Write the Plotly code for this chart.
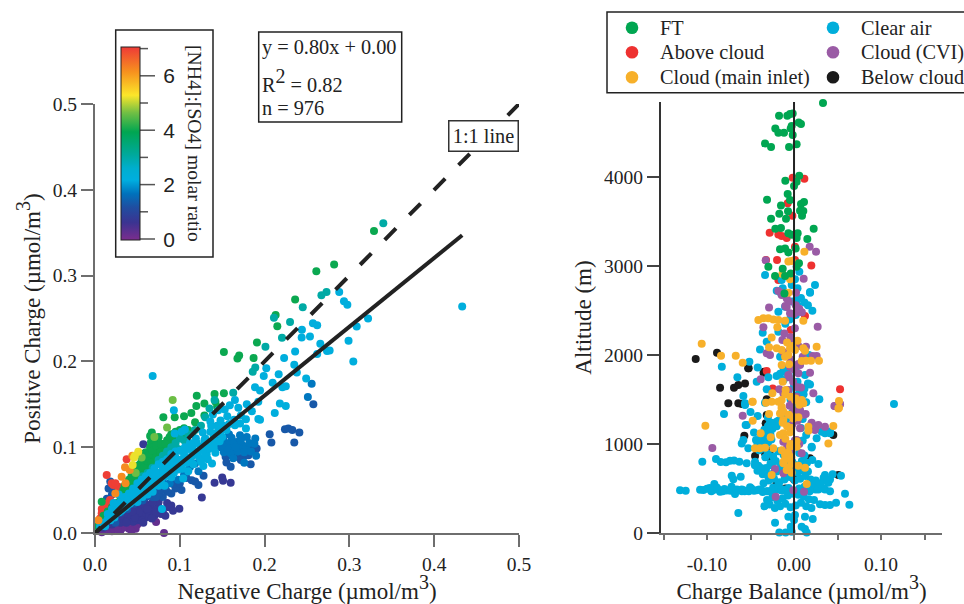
import plotly.graph_objects as go

# ---------- Left panel: (negative charge, positive charge) grouped by [NH4]:[SO4] ratio ----------
ratio_02 = 0.2
pts_02 = [(.0814,0),(.072,.0128),(.03,.003),(.04,.005),(.045,.008),(.02,.002),(.012,.004),(.05,.01),(.025,.008),(.035,.01),
          (.015,.003),(.008,.001),(.042,.012),(.028,.012),(.018,.007),(.022,.005),(.048,.005),(.038,.008),(.01,.002),(.033,.006),(.027,.004),(.043,.003)]
ratio_07 = 0.7
pts_07 = [(.0995,.0283),(.09,.032),(.085,.035),(.087,.03),(.08,.025),(.083,.02),(.075,.03),(.07,.028),(.065,.033),(.06,.032),
          (.06,.025),(.055,.03),(.05,.028),(.065,.022),(.07,.02),(.06,.018),(.055,.02),(.05,.015),(.045,.02),(.04,.015),
          (.035,.017),(.03,.012),(.045,.013),(.055,.015),(.04,.022),(.05,.022),(.035,.023),(.03,.02),(.025,.014),(.02,.01),
          (.015,.01),(.01,.006),(.126,.0415),(.141,.0585),(.15,.0647),(.151,.061),(.16,.0585),(.057,.1035),(.075,.036),
          (.068,.036),(.058,.038),(.048,.034),(.042,.028),(.078,.022),(.092,.026),(.03,.026),(.024,.018),(.016,.014),
          (.052,.024),(.062,.028),(.072,.024),(.047,.018),(.037,.012),(.057,.012),(.067,.017),(.053,.034),(.044,.025)]
ratio_13 = 1.3
pts_13 = [(.206,.115),(.208,.1054),(.224,.121),(.228,.1217),(.2327,.12),(.241,.117),(.235,.1054),(.2575,.150),(.128,.0667),
          (.114,.0616),(.122,.056),(.118,.06),(.102,.05),(.095,.052),(.09,.046),(.085,.048),(.08,.042),(.075,.045),(.068,.042),
          (.018,.06),(.016,.052),(.02,.045),(.024,.052),(.014,.04),(.012,.03),(.016,.024),(.02,.02),(.028,.032),(.034,.03),
          (.04,.036),(.05,.04),(.06,.042),(.07,.05),(.078,.05),(.1,.058),(.154,.0888),(.155,.0822),(.16,.0771),(.1836,.08),
          (.157,.0907),(.167,.0888),(.175,.0888),(.181,.0907),(.1906,.0984),(.1887,.0965),(.172,.085),(.165,.095),(.185,.1),
          (.064,.046),(.056,.038),(.046,.034),(.038,.028),(.03,.024),(.024,.012),(.072,.042),(.083,.052),(.092,.057),(.108,.064)]
ratio_16 = 1.7
pts_16 = [(.251,.1585),(.2555,.174),(.171,.114),(.161,.111),(.151,.11),(.179,.112),(.189,.11),(.159,.1),(.167,.106),(.174,.102),
          (.163,.104),(.17,.098),(.178,.1),(.182,.105),(.188,.104),(.155,.105),(.148,.1),(.152,.094),(.16,.093),(.168,.095),
          (.176,.094),(.145,.108),(.158,.115),(.172,.108),(.112,.077),(.122,.072),(.118,.081),(.105,.068),(.098,.062),
          (.088,.058),(.08,.06),(.166,.1),(.156,.099),(.184,.095),(.19,.09),(.15,.103),(.163,.087),(.176,.082)]
ratio_21 = 2.2
pts_21 = [(.433,.264),(.322,.25),(.3046,.2),(.299,.224),(.3086,.2407),(.288,.281),(.2936,.27),(.2976,.266),(.257,.2446),
          (.262,.242),(.244,.237),(.2535,.229),(.2437,.228),(.2657,.2205),(.2767,.2128),(.2736,.212),(.262,.2085),(.236,.2116),
          (.223,.204),(.235,.196),(.238,.187),(.202,.192),(.199,.183),(.2166,.185),(.2095,.175),(.221,.17),(.225,.171),
          (.249,.18),(.218,.151),(.225,.148),(.212,.14),(.1926,.133),(.1946,.132),(.1946,.166),(.1887,.17),(.179,.15),
          (.169,.146),(.159,.149),(.153,.144),(.1454,.143),(.139,.138),(.1926,.153),(.178,.1325),(.171,.1275),(.178,.1217),
          (.165,.1256),(.151,.125),(.144,.125),(.136,.13),(.127,.117),(.106,.1205),(.094,.116),(.102,.118),(.142,.0934),
          (.1317,.0915),(.123,.088),(.1278,.078),(.118,.095),(.112,.088),(.138,.081),(.104,.0636),(.068,.183),(.093,.143),
          (.13,.11),(.12,.105),(.115,.1),(.11,.098),(.105,.092),(.1,.085),(.095,.088),(.09,.082),(.085,.078),(.08,.075),
          (.075,.07),(.07,.066),(.065,.062),(.06,.06),(.055,.056),(.05,.05),(.045,.046),(.04,.04),(.035,.036),(.03,.03),
          (.025,.026),(.02,.022),(.015,.016),(.01,.012),(.006,.008),(.098,.074),(.093,.07),(.088,.07),(.083,.066),(.078,.062),
          (.072,.06),(.068,.056),(.062,.052),(.058,.05),(.053,.044),(.048,.042),(.043,.036),(.038,.032),(.033,.028),(.028,.024),
          (.023,.018),(.018,.015),(.012,.008),(.108,.082),(.115,.09),(.125,.1),(.135,.105),(.14,.112),(.148,.118),(.155,.12),
          (.09,.092),(.085,.086),(.08,.083),(.075,.08),(.07,.075),(.065,.07),(.06,.066),(.055,.062),(.05,.058),(.045,.052),
          (.04,.046),(.035,.042),(.03,.036),(.025,.032),(.02,.028),(.015,.022),(.062,.045),(.068,.048),(.082,.055),(.09,.065),
          (.103,.075),(.11,.072),(.075,.055),(.056,.042),(.05,.036),(.028,.045),(.022,.035),(.079,.028),
          (.128,.102),(.122,.095),(.116,.094),(.11,.088),(.103,.086),(.097,.08),(.092,.076),(.087,.074),(.082,.07),(.077,.066),
          (.072,.07),(.067,.066),(.063,.058),(.058,.056),(.053,.052),(.048,.047),(.043,.043),(.038,.038),(.033,.034),(.028,.03),
          (.1,.078),(.107,.087),(.113,.083),(.12,.092),(.134,.098),(.142,.106),(.15,.112),(.158,.127),(.164,.132),(.136,.118),
          (.086,.068),(.076,.058),(.07,.056),(.066,.05),(.06,.048),(.054,.048),(.046,.04),(.041,.034),(.036,.03),(.031,.026),
          (.13,.09),(.127,.097),(.133,.086),(.14,.099),(.116,.08),(.125,.083),(.147,.107),(.144,.117),(.137,.125),(.129,.108),
          (.119,.11),(.112,.105),(.106,.1),(.1,.096),(.095,.095),(.148,.131),(.156,.136),(.172,.137),(.185,.142),(.165,.155)]
ratio_31 = 3.0
pts_31 = [(.34,.361),(.245,.263),(.273,.281),(.267,.277),(.211,.251),(.230,.246),(.2205,.2275),(.201,.217),(.189,.193),
          (.186,.188),(.163,.1635),(.141,.155),(.135,.145),(.13,.135),(.125,.125),(.118,.12),(.11,.115),(.1,.11),(.095,.105),
          (.09,.1),(.085,.095),(.08,.09),(.075,.085),(.068,.076),(.062,.07),(.056,.066),(.105,.108),(.098,.098),(.092,.094),(.087,.09)]
ratio_40 = 4.0
pts_40 = [(.329,.352),(.282,.313),(.261,.305),(.236,.272),(.213,.254),(.215,.241),(.191,.222),(.152,.211),(.170,.207),(.168,.2035),
          (.187,.204),(.141,.162),(.152,.163),(.12,.16),(.1195,.148),(.129,.151),(.1136,.140),(.105,.136),(.094,.135),(.0806,.135),
          (.129,.137),(.118,.129),(.142,.153),(.144,.147),(.035,.055),(.04,.062),(.045,.07),(.05,.078),(.055,.085),(.06,.094),
          (.065,.1),(.07,.107),(.075,.112),(.085,.108),(.09,.115),(.095,.118),(.1,.12),(.105,.122),(.11,.12),(.115,.117),
          (.045,.058),(.05,.066),(.055,.072),(.06,.08),(.065,.086),(.07,.092),(.075,.098),(.08,.1),(.085,.097),(.09,.105),
          (.038,.048),(.042,.052),(.05,.055),(.055,.062),(.06,.072),(.065,.078),(.07,.085),(.075,.09),(.08,.088),(.03,.042),
          (.025,.035),(.02,.03),(.015,.025),(.01,.02),(.0079,.0365),(.01,.015),(.067,.117),(.065,.113),(.066,.106),(.0688,.1),
          (.0334,.05),(.059,.0929),(.003,.008),(.1,.113),(.107,.115),
          (.048,.074),(.053,.08),(.058,.088),(.063,.09),(.068,.096),(.072,.102),(.078,.104),(.083,.104),(.088,.112),(.093,.11),
          (.098,.114),(.103,.118),(.043,.066),(.047,.064),(.052,.07),(.057,.076),(.062,.084),(.067,.082),(.072,.088),(.077,.094),(.082,.092),(.04,.054),(.036,.05)]
ratio_47 = 4.6
pts_47 = [(.085,.123),(.07,.112),(.055,.088),(.0916,.155),(.048,.07)]
ratio_53 = 5.2
pts_53 = [(.051,.0948),(.047,.09),(.0444,.0793),(.046,.088)]
ratio_60 = 6.2
pts_60 = [(.0354,.0765),(.0314,.0657),(.004,.015),(.041,.0734),(.044,.09),(.036,.058),(.024,.046)]
ratio_70 = 7.0
pts_70 = [(.0138,.0676),(.0373,.0859),(.0197,.058),(.0275,.054),(.0314,.052),(.0079,.0229),(.0098,.0287),(.0177,.0385),
          (.0177,.0326),(.006,.017),(.0216,.056),(.0115,.034),(.008,.028),(.024,.058)]
left_groups = [(ratio_02,pts_02),(ratio_07,pts_07),(ratio_13,pts_13),(ratio_16,pts_16),(ratio_70,pts_70),
               (ratio_40,pts_40),(ratio_31,pts_31),(ratio_21,pts_21),(ratio_47,pts_47),(ratio_60,pts_60),(ratio_53,pts_53)]

neg_charge, pos_charge, nh4_so4 = [], [], []
for r_val, pts in left_groups:
    for a, b in pts:
        neg_charge.append(a); pos_charge.append(b); nh4_so4.append(r_val)

fit_x = [0, .433]
fit_y = [0, .347]
one_x = [.5, 0]
one_y = [.5, 0]

colorscale = [[0,"#7B2D8E"],[.09,"#3B3391"],[.17,"#1F4EA1"],[.24,"#0072BC"],[.31,"#00AEDF"],[.37,"#00AECF"],[.44,"#00A99D"],
              [.56,"#00A651"],[.66,"#72BF44"],[.75,"#FCE62A"],[.87,"#F6921E"],[1,"#EE3A37"]]

# ---------- Right panel: (charge balance, altitude) per air mass ----------
ft_x = [.0333,-.0172,-.0077,-.0046,-.0015,.0054,.008,-.0215,-.018,-.0115,-.0038,-.0027,-.0015,-.0333,-.0264,-.0057,.003,.006,.003,-.01,0,
        -.0073,-.0046,-.031,-.015,.008,.0115,-.0069,-.0169,.0069,.0107,.0092,-.0264,-.0092,-.0215,-.015,.0226,-.0065,-.0027,.0042,.003,.0153,
        -.0161,-.0103,-.0065,.0019,-.0295,.0057,.003,-.013,-.0218,-.0103,-.0038,-.011]
ft_y = [4831,4689,4689,4707,4715,4614,4595,4546,4498,4498,4546,4572,4471,4378,4337,4337,4367,4015,3947,3958,3898,
        3809,3741,3745,3681,3696,3718,3614,3588,3621,3618,3565,3531,3531,3419,3426,3419,3367,3352,3367,3314,3303,
        3187,3198,3153,3198,2992,3030,2992,2970,2887,2887,2917,2692]
above_x = [-.0015,.0119,-.0073,-.0019,-.028,-.018,-.0142,-.0084,.0011,-.0322,-.0195,.0011,.0199,-.018,.0126,-.0038,-.0314,.0529,-.0245,.0035,-.0125]
above_y = [3992,3981,3704,3565,3374,3355,3336,3314,3217,3067,3067,3067,3007,2842,2438,2281,1820,1614,1625,2100,1300]
below_x = [-.0521,-.0345,-.085,-.069,-.064,-.0563,-.0755,-.064,-.0314,-.0571,-.0448,-.0333,-.0295,-.0314,-.0326,.0452,.051,.0184,-.113,-.0885,
           -.0527,-.035,-.02,-.01,.0,.012,-.06,-.04,-.032,-.028]
below_y = [1850,1813,1633,1633,1663,1681,1457,1457,1502,1094,865,895,858,1326,1232,1101,652,839,1955,2025,
           1850,1800,560,500,600,790,1450,1000,1180,920]
clear_pts = [(-.0333,2898),(.0061,2936),(.0011,2850),(.0241,2786),(.0184,2708),(-.0142,2842),(-.0027,2786),(-.013,2749),(-.0199,2723),(.003,2618),
             (.0184,2700),(-.015,2693),(.0038,2562),(-.0103,2543),(.0211,2498),(-.018,2487),(-.036,2251),(-.0314,2150),(-.018,2262),(-.0391,2063),
             (-.0513,1925),(-.0418,1861),(-.016,1981),(-.083,1869),(-.0651,1749),(-.0429,1700),(-.0295,1749),(-.02,1764),(-.0314,1614),(-.0582,1539),
             (.0291,1502),(.0184,1670),(.0126,1775),(-.0333,1464),(-.0563,1438),(-.0805,1337),(-.0556,1213),(-.0418,1315),(-.0563,1457),(-.0582,1045),
             (-.0601,1007),(-.0525,951),(-.0437,1045),(.026,1064),(.0203,970),(.0356,1120),(.0414,1120),(-.1693,801),(-.1054,801),(-.0897,831),
             (-.0843,797),(-.0782,794),(-.0736,813),(-.069,816),(-.0628,801),(-.0544,783),(-.0448,801),(-.041,756),(-.0716,644),(-.0697,603),
             (-.0613,633),(-.064,225),(-.131,479),(-.1245,476),(-.108,487),(-.1042,483),(-.0916,551),(-.0927,483),(-.085,464),(-.0775,478),
             (-.0678,438),(-.06,490),(-.0506,513),(-.043,480),(-.0316,470),(-.02,490),(-.0123,480),(-.0218,116),(-.0169,7),(-.0096,7),
             (-.0038,71),(.0011,202),(-.0065,183),(.0126,183),(.0215,157),(.0088,71),(.0126,45),(.0146,7),(-.0027,15),(0,146),
             (.0299,322),(.0356,315),(.0414,315),(.0483,341),(.0636,318),(.0586,442),(.054,644),(.0444,659),(.0356,652),(.0414,600),
             (.0395,565),(.0299,525),(.0261,530),(.0318,505),(.0356,490),(.0414,470),(.028,775),(.0203,962),(.0318,1138),(.0414,1140),
             (.1149,1449),(-.0544,1213),(-.0888,510),(-.08,495),(-.0718,520),(-.0656,488),(-.0568,470),(-.049,500),(-.0372,478),(-.0255,462),
             (-.0062,505),(.0045,455),(.0152,480),(.0247,490),(-.1,498),(-.095,470),(-.087,490),(-.082,470),(-.073,475),(-.066,480),
             (-.058,480),(-.052,470),(-.046,475),(-.04,490),(-.036,460),(-.027,470),(-.015,480),(-.005,470),(.01,480),(.018,490),
             (.028,490),(.034,500),(-.097,505),(-.06,470),
             (-.034,300),(-.028,320),(-.022,280),(-.016,300),(-.01,330),(-.004,290),(.002,310),(.008,340),(.014,300),(.02,280),
             (-.031,370),(-.025,400),(-.019,360),(-.013,390),(-.007,420),(-.001,440),(.005,430),(.011,410),(.017,380),(.023,370),
             (-.03,470),(-.024,510),(-.018,540),(-.012,490),(-.006,450),(.006,500),(.012,520),(.018,470),(-.035,560),(-.029,590),
             (-.023,610),(-.017,570),(-.011,600),(-.005,630),(.001,590),(.007,610),(.013,640),(.019,600),(-.028,660),(-.022,690),
             (-.016,720),(-.01,700),(-.004,740),(.004,680),(.01,700),(.016,690),(-.032,730),(-.026,760),(-.02,690),(-.014,740),
             (-.008,780),(-.002,800),(.003,760),(.009,810),(.015,790),(.021,820),(-.033,850),(-.027,780),(-.021,810),(-.015,770),
             (-.042,700),(-.038,730),(-.036,660),(-.045,760),(-.03,640),(.03,560),(.025,590),(.034,620),(.038,580),(.02,560),
             (-.03,890),(-.024,860),(-.018,920),(-.012,880),(.006,900),(.012,870),(-.04,930),(-.036,1040),(-.034,950),(-.03,1010),
             (-.026,1050),(-.038,1000),(-.035,1080),(-.032,1120),(-.029,1150),(-.027,1100),(-.025,1170),(-.03,1200),(-.028,1230),(-.024,1190),
             (-.02,1250),(-.01,1290),(-.008,1310),(-.004,1330),(0,1380),(.004,1420),(.008,1180),(-.022,1220),(-.018,1260),(-.014,1330),
             (-.01,1250),(-.006,1300),(-.002,1350),(.002,1400),(.006,1330),(.01,1280),(.014,1470),
             (-.004,1500),(.002,1540),(.007,1520),(.011,1560),(-.006,1600),(0,1650),(.006,1580),(.012,1620),(.016,1680),(-.012,1720),
             (-.006,1760),(.004,1700),(-.016,1790),(-.012,1850),(-.008,1800),(-.003,1870),(.002,1820),(.007,1900),(.012,1950),(.017,2000),
             (-.05,1360),(-.046,1130),(-.042,1000),(-.038,1110),(-.034,1160),(-.03,1300),(-.026,1240),(-.02,1200),(.02,1230),(.024,1170),
             (.01,1040),(.014,1100),(-.01,2350),(-.005,2400),(.002,2450),(.006,2500),(-.002,2600),(-.012,2680),(.004,2750),(.008,2640),(.012,2590),(.016,2560)]
clear_x = [p[0] for p in clear_pts]
clear_y = [p[1] for p in clear_pts]
cvi_x = [.018,.0253,-.0326,.0111,-.018,-.0142,.0023,-.0084,-.0287,-.0122,.005,-.0046,.0272,-.0352,-.0111,-.0134,0,.0138,-.0314,-.0276,
         .0215,.026,.0184,.0069,.005,-.0383,-.0065,.008,.0222,-.0169,-.0122,.0471,.0529,-.0065,-.0027,-.0046,-.0939,-.059,-.0211,-.0008,
         .0115,.0464,.0529,.0069,.0203,.028,.0356,.0241,-.0123,.0031,.0088,-.0218,-.0123,.0134,.0031,-.0084,.0,.004,.009,-.006,-.001,.0,-.004,.005,-.002,.004,.001,-.008,.006,-.003,.0,-.005,.003,
         -.01,-.006,.002,.006,.01,-.012,-.004,.001,.005,-.009,-.002,.003,.007,.011]
cvi_y = [3217,3161,3064,2857,2719,2674,2700,2636,2535,2693,2487,2468,2318,2311,2243,2168,2150,2093,2019,2000,
         1989,1989,1801,1887,1794,1727,1775,1636,1569,1614,1569,1427,1446,1607,1532,1869,955,1318,408,479,
         464,1427,1449,1176,1240,1213,1195,1157,1026,1045,895,719,670,1337,1500,2540,2460,2510,2480,1750,1700,1840,1950,1900,1220,1260,1040,960,1000,920,1370,1430,1640,
         2550,2600,2560,2520,1980,2030,2200,2300,2100,1580,1480,1530,1380,1330]
main_x = [.0119,-.0065,-.0027,-.0134,-.0046,-.0065,-.041,-.0352,-.0295,-.0238,-.018,-.0103,-.0192,.0107,-.0257,.026,-.0287,-.0199,-.0142,-.0046,
          .0011,.0107,.0126,-.0103,-.0065,.0088,.0138,.0195,.0287,-.067,-.0839,-.059,-.0142,-.0057,-.013,-.0096,-.0249,.0517,-.0479,-.0322,
          -.0257,-.018,-.0142,.0011,.0088,-.0142,.0107,.0517,-.1061,-.1019,-.0475,-.0475,-.0383,-.0448,-.0391,-.0333,-.0238,-.0268,-.0287,-.0257,
          .0146,.0395,.0452,.051,.0165,.0165,-.0161,-.0123,-.0046,-.0008,.005,-.0123,-.0161,-.0142,-.0123,-.0027,.005,.0126,-.0084,-.0027,
          -.0103,-.0046,.0031,-.0065,-.01,-.004,.002,-.013,-.008,-.003,-.01,-.006,-.012,-.009,
          -.008,-.002,.004,-.012,-.006,.0,.006,-.01,-.004,.003,-.014,-.008,-.003]
main_y = [3161,3052,3056,2910,2850,2700,2393,2412,2412,2400,2393,2386,2311,2386,2198,2093,2086,2075,2056,2075,
          2056,2075,2048,1981,2000,1932,1936,1936,1936,1992,1992,1914,1887,1895,1700,1607,1569,1483,1476,1464,
          1476,1476,1494,1494,1494,1419,1457,1408,2127,1206,1262,1475,1120,951,951,959,951,1075,1337,652,
          551,1007,1202,1400,1195,1150,1101,1120,1131,1288,1300,1270,1344,1400,783,783,756,734,708,678,
          876,970,970,895,1560,1530,1510,1240,1200,1180,830,740,800,870,
          2140,2100,2160,1360,1330,1300,1440,1060,1000,1030,930,900,850]

zero_x = [0, 0]
zero_y = [0, 4843]

serif = "Liberation Serif"
ink = "#222222"
W, H = 964, 604
def px(v): return v / W
def py(v): return 1 - v / H

fig = go.Figure()

fig.add_trace(go.Scatter(x=neg_charge, y=pos_charge, mode="markers", cliponaxis=False, showlegend=False,
    marker=dict(size=8, color=nh4_so4, colorscale=colorscale, cmin=-0.04, cmax=7.05, line_width=0,
        colorbar=dict(x=px(121), xanchor="left", y=py(47.3), yanchor="top", len=192.7/H, lenmode="fraction",
            thickness=19, thicknessmode="pixels", ypad=0, xpad=0, outlinecolor=ink, outlinewidth=1,
            tickvals=[0,2,4,6], ticks="outside", ticklen=19, tickwidth=1.5, tickcolor="rgba(0,0,0,0)",
            tickfont=dict(family="Liberation Sans", size=21, color=ink), ticklabelposition="outside"))))
fig.add_trace(go.Scatter(x=one_x, y=one_y, mode="lines", showlegend=False, line=dict(color=ink, width=4, dash="16px,19px")))
fig.add_trace(go.Scatter(x=fit_x, y=fit_y, mode="lines", showlegend=False, line=dict(color=ink, width=4)))

for xs, ys, c in [(below_x,below_y,"#1A1A1A"),(above_x,above_y,"#EE3130"),(clear_x,clear_y,"#00AEDB"),
                  (cvi_x,cvi_y,"#9A5BA5"),(main_x,main_y,"#F7B02A"),(ft_x,ft_y,"#00A651")]:
    fig.add_trace(go.Scatter(x=xs, y=ys, xaxis="x2", yaxis="y2", mode="markers", cliponaxis=False, showlegend=False,
                             marker=dict(size=8, color=c, line_width=0)))
fig.add_trace(go.Scatter(x=zero_x, y=zero_y, xaxis="x2", yaxis="y2", mode="lines", showlegend=False, line=dict(color=ink, width=2)))

gray = "#6E6E6E"
tf = dict(family=serif, size=19.5, color=ink)
tt = dict(family=serif, size=23, color=ink)
sup3 = "<sup><span style='font-size:20px'>3</span></sup>"
fig.update_layout(
    width=W, height=H, autosize=False, margin=dict(l=0, r=0, t=0, b=0, autoexpand=False), paper_bgcolor="white", plot_bgcolor="white",
    xaxis=dict(domain=[px(95), px(519)], range=[0, .5], tickvals=[0,.1,.2,.3,.4,.5], tickformat=".1f", showgrid=False, zeroline=False,
               showline=True, linecolor=gray, linewidth=2, ticks="outside", ticklen=12, tickwidth=2, tickcolor=gray, tickfont=tf,
               ticklabelstandoff=1, title=dict(text="Negative Charge (µmol/m"+sup3+")", font=tt, standoff=6)),
    yaxis=dict(domain=[py(533), py(104)], range=[0, .5], tickvals=[0,.1,.2,.3,.4,.5], tickformat=".1f", showgrid=False, zeroline=False,
               showline=True, linecolor=gray, linewidth=2, ticks="outside", ticklen=12, tickwidth=2, tickcolor=gray, tickfont=tf,
               ticklabelstandoff=0, title=dict(text="Positive Charge (µmol/m"+sup3+")", font=tt, standoff=6)),
    xaxis2=dict(domain=[px(661), px(942)], range=[-.1529, .1701], anchor="y2",
                tickvals=[-.10,0,.10], ticktext=["-0.10","0.00","0.10"],
                minor=dict(tickvals=[-.15,-.05,.05,.15], ticks="outside", ticklen=5, tickwidth=2, tickcolor=gray),
                showgrid=False, zeroline=False, showline=True, linecolor=gray, linewidth=2, ticks="outside", ticklen=5, tickwidth=2,
                tickcolor=gray, tickfont=tf, ticklabelstandoff=8, title=dict(text="Charge Balance (µmol/m"+sup3+")", font=tt, standoff=6)),
    yaxis2=dict(domain=[py(533), py(102)], range=[0, 4843], anchor="x2", tickvals=[0,1000,2000,3000,4000], showgrid=False, zeroline=False,
                showline=True, linecolor="#333333", linewidth=2, ticks="outside", ticklen=12, tickwidth=2, tickcolor="#444444", tickfont=tf,
                ticklabelstandoff=0, title=dict(text="Altitude (m)", font=tt, standoff=6)),
)

def box(x0, y0, x1, y1, w=1.5):
    return dict(type="rect", xref="paper", yref="paper", x0=px(x0), x1=px(x1), y0=py(y1), y1=py(y0), line=dict(color=ink, width=w))
shapes = [box(115.7, 30, 213, 257), box(258.7, 32, 401.7, 122), box(607, 12, 990, 92.7)]
# ticks of the colour bar: short at odd values, long at even values
for z in range(8):
    yy = 239 - z * 27.2
    end = 155 if z % 2 == 0 else 148
    shapes.append(dict(type="line", xref="paper", yref="paper", x0=px(140), x1=px(end), y0=py(yy), y1=py(yy), line=dict(color="#555555", width=1.5)))
# legend keys
legend_rows = [("FT","#00A651",632,27.7),("Above cloud","#EE3130",632,52.3),("Cloud (main inlet)","#F7B02A",632,77.3),
               ("Clear air","#00AEDB",833,27.7),("Cloud (CVI)","#9A5BA5",833,52.3),("Below cloud","#1A1A1A",833,77.3)]
r = 6.3
for name, c, cx, cy in legend_rows:
    shapes.append(dict(type="circle", xref="paper", yref="paper", x0=px(cx-r), x1=px(cx+r), y0=py(cy+r), y1=py(cy-r), fillcolor=c, line_width=0))
fig.update_layout(shapes=shapes)

anns = []
def text(t, x, y, size=20.3, anchor="left", **kw):
    anns.append(dict(text=t, xref="paper", yref="paper", x=px(x), y=py(y), xanchor=anchor, yanchor="middle", showarrow=False,
                     font=dict(family=serif, size=size, color=ink), **kw))
for name, c, cx, cy in legend_rows:
    text(name, cx + 25.5, cy)
text("y = 0.80x + 0.00", 260, 47)
text("R<sup><span style='font-size:20px'>2</span></sup> = 0.82", 260, 80)
text("n = 976", 260, 108)
text("1:1 line", 483.5, 136, anchor="center", bgcolor="white", bordercolor="#333333", borderwidth=1.5, width=66, height=27)
text("[NH4]:[SO4] molar ratio", 195.5, 143.5, size=19.7, anchor="center", textangle=90)
fig.update_layout(annotations=anns)

fig.write_html("out.html", post_script="document.body.style.margin='0';", config={"displayModeBar": False})
